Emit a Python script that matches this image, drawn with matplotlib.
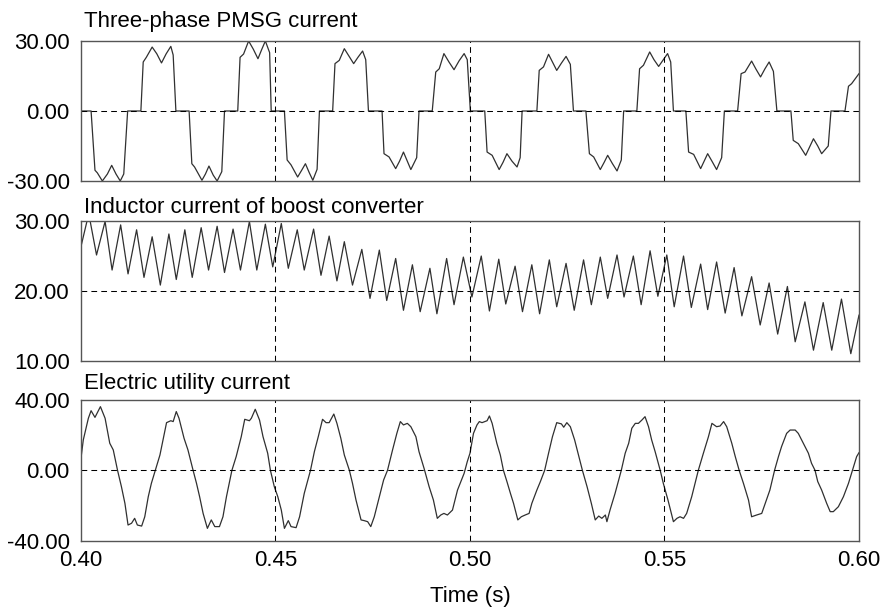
#!/usr/bin/env python3
import matplotlib
matplotlib.use('Agg')
import matplotlib.pyplot as plt

plt.rcParams['font.family'] = ['Liberation Sans', 'DejaVu Sans']

### values ###
x_ticks = [0.40, 0.45, 0.50, 0.55, 0.60]
x_labels = ['0.40', '0.45', '0.50', '0.55', '0.60']
x_grid = [0.45, 0.50, 0.55]

# three-phase PMSG current (one phase shown)
pmsg_t = [0.4000, 0.4026, 0.4036, 0.4042, 0.4055, 0.4068, 0.4079, 0.4090, 0.4101, 0.4110, 0.4120,
          0.4154, 0.4160, 0.4168, 0.4183, 0.4195, 0.4207, 0.4219, 0.4231, 0.4237, 0.4244,
          0.4278, 0.4285, 0.4292, 0.4311, 0.4320, 0.4329, 0.4340, 0.4350, 0.4362, 0.4369,
          0.4403, 0.4409, 0.4418, 0.4431, 0.4443, 0.4455, 0.4465, 0.4474, 0.4485, 0.4489,
          0.4523, 0.4530, 0.4540, 0.4557, 0.4567, 0.4577, 0.4587, 0.4596, 0.4607, 0.4613,
          0.4647, 0.4653, 0.4664, 0.4677, 0.4689, 0.4701, 0.4712, 0.4724, 0.4732, 0.4739,
          0.4774, 0.4779, 0.4792, 0.4809, 0.4819, 0.4829, 0.4839, 0.4848, 0.4863, 0.4869,
          0.4903, 0.4912, 0.4921, 0.4933, 0.4946, 0.4959, 0.4972, 0.4985, 0.4993, 0.5001,
          0.5038, 0.5044, 0.5057, 0.5075, 0.5085, 0.5095, 0.5108, 0.5121, 0.5129, 0.5134,
          0.5172, 0.5178, 0.5189, 0.5202, 0.5212, 0.5223, 0.5235, 0.5247, 0.5258, 0.5266,
          0.5298, 0.5307, 0.5318, 0.5335, 0.5345, 0.5354, 0.5366, 0.5378, 0.5389, 0.5395,
          0.5429, 0.5436, 0.5446, 0.5462, 0.5473, 0.5485, 0.5497, 0.5508, 0.5516, 0.5523,
          0.5555, 0.5562, 0.5575, 0.5593, 0.5602, 0.5611, 0.5622, 0.5634, 0.5647, 0.5654,
          0.5688, 0.5697, 0.5707, 0.5724, 0.5735, 0.5747, 0.5758, 0.5769, 0.5780, 0.5789,
          0.5825, 0.5831, 0.5844, 0.5863, 0.5873, 0.5883, 0.5894, 0.5904, 0.5921, 0.5928,
          0.5964, 0.5973, 0.5981, 0.6000]
pmsg_i = [0, 0, -25.4, -26.5, -30.0, -27.0, -23.3, -27.0, -30.0, -27.0, 0,
          0, 21.0, 23.0, 27.4, 24.5, 20.6, 24.5, 27.7, 24.0, 0,
          0, -22.6, -24.0, -29.7, -27.0, -23.6, -27.5, -30.0, -26.0, 0,
          0, 23.0, 24.4, 30.0, 26.5, 22.4, 26.5, 30.0, 25.0, 0,
          0, -21.0, -23.1, -28.3, -25.5, -22.6, -26.5, -29.7, -25.0, 0,
          0, 20.3, 21.7, 26.7, 23.5, 20.3, 23.0, 25.7, 22.0, 0,
          0, -18.3, -19.7, -24.7, -21.5, -17.6, -21.5, -25.1, -20.0, 0,
          0, 16.7, 18.1, 24.6, 21.0, 17.7, 21.5, 24.6, 22.0, 0,
          0, -17.6, -19.0, -25.1, -22.0, -18.3, -21.5, -24.0, -20.0, 0,
          0, 17.4, 18.9, 24.3, 21.0, 17.4, 20.5, 23.4, 20.0, 0,
          0, -18.3, -19.7, -25.1, -22.0, -19.0, -22.5, -25.7, -21.0, 0,
          0, 18.1, 19.6, 25.3, 22.0, 19.1, 22.0, 24.6, 21.0, 0,
          0, -17.6, -18.6, -24.7, -21.5, -18.3, -21.5, -25.1, -20.0, 0,
          0, 16.0, 16.7, 21.4, 18.0, 14.6, 18.0, 21.0, 17.0, 0,
          0, -12.6, -14.0, -19.0, -15.5, -11.9, -15.0, -18.3, -15.0, 0,
          0, 10.6, 11.7, 16.0]

# inductor current of the boost converter (peaks and troughs)
ind_t = [0.4000, 0.4020, 0.4040, 0.4062, 0.4080, 0.4102, 0.4121, 0.4143, 0.4162, 0.4183,
         0.4204, 0.4226, 0.4245, 0.4267, 0.4286, 0.4309, 0.4328, 0.4350, 0.4369, 0.4391,
         0.4410, 0.4433, 0.4452, 0.4474, 0.4493, 0.4515, 0.4533, 0.4556, 0.4574, 0.4598,
         0.4617, 0.4638, 0.4658, 0.4677, 0.4698, 0.4722, 0.4743, 0.4767, 0.4786, 0.4809,
         0.4829, 0.4852, 0.4872, 0.4897, 0.4915, 0.4940, 0.4959, 0.4983, 0.5005,
         0.5029, 0.5050, 0.5074, 0.5092, 0.5116, 0.5135, 0.5159, 0.5179, 0.5204, 0.5223,
         0.5247, 0.5268, 0.5292, 0.5312, 0.5335, 0.5354, 0.5378, 0.5396, 0.5420, 0.5440,
         0.5463, 0.5483, 0.5506, 0.5525, 0.5549, 0.5569, 0.5593, 0.5611, 0.5634, 0.5656,
         0.5679, 0.5699, 0.5724, 0.5746, 0.5769, 0.5791, 0.5816, 0.5836, 0.5861, 0.5883,
         0.5908, 0.5930, 0.5955, 0.5979, 0.6000]
ind_i = [26.3, 31.0, 25.1, 29.9, 22.95, 29.4, 22.4, 28.7, 21.9, 27.7,
         20.8, 28.1, 21.6, 28.7, 21.9, 29.0, 22.95, 29.2, 22.6, 28.8,
         22.95, 29.9, 22.95, 29.5, 23.4, 29.6, 23.2, 28.7, 22.95, 28.8,
         22.2, 27.8, 21.4, 27.0, 20.8, 25.9, 18.9, 25.8, 18.6, 24.6,
         17.2, 23.7, 17.0, 23.2, 16.7, 24.6, 18.0, 24.8, 19.1,
         24.95, 17.1, 24.5, 18.1, 23.5, 17.0, 23.7, 16.7, 24.4, 17.7,
         23.9, 17.2, 24.4, 18.0, 24.8, 18.9, 25.1, 19.1, 24.95, 18.0,
         25.7, 19.2, 25.1, 17.7, 24.95, 17.6, 23.8, 17.3, 24.1, 16.8,
         23.3, 16.4, 22.0, 15.1, 21.1, 13.8, 20.6, 12.7, 18.4, 11.5,
         18.3, 11.5, 18.8, 11.0, 16.5]

# electric utility current
util_t = [0.4000, 0.4006, 0.4012, 0.4019, 0.4026, 0.4036, 0.4050, 0.4062, 0.4074, 0.4083,
          0.4094, 0.4104, 0.4113, 0.4121, 0.4130, 0.4138, 0.4145, 0.4156, 0.4164, 0.4173,
          0.4181, 0.4191, 0.4203, 0.4211, 0.4220, 0.4231, 0.4237, 0.4245, 0.4252, 0.4265,
          0.4275, 0.4288, 0.4297, 0.4305, 0.4314, 0.4325, 0.4335, 0.4344, 0.4356, 0.4365,
          0.4374, 0.4388, 0.4399, 0.4412, 0.4421, 0.4433, 0.4438, 0.4448, 0.4459, 0.4468,
          0.4480, 0.4487, 0.4497, 0.4506, 0.4515, 0.4523, 0.4533, 0.4540, 0.4553, 0.4562,
          0.4574, 0.4590, 0.4600, 0.4610, 0.4621, 0.4630, 0.4638, 0.4650, 0.4658, 0.4668,
          0.4677, 0.4690, 0.4698, 0.4707, 0.4720, 0.4728, 0.4737, 0.4745, 0.4754, 0.4767,
          0.4778, 0.4788, 0.4801, 0.4812, 0.4821, 0.4829, 0.4839, 0.4848, 0.4861, 0.4869,
          0.4882, 0.4895, 0.4906, 0.4916, 0.4925, 0.4933, 0.4942, 0.4955, 0.4968, 0.4985,
          0.4993, 0.5000, 0.5009, 0.5018, 0.5024, 0.5031, 0.5038, 0.5044, 0.5050, 0.5057,
          0.5069, 0.5078, 0.5086, 0.5095, 0.5104, 0.5112, 0.5123, 0.5132, 0.5142, 0.5152,
          0.5159, 0.5172, 0.5181, 0.5192, 0.5202, 0.5212, 0.5223, 0.5235, 0.5241, 0.5249,
          0.5258, 0.5269, 0.5279, 0.5289, 0.5301, 0.5312, 0.5322, 0.5331, 0.5339, 0.5348,
          0.5352, 0.5360, 0.5373, 0.5389, 0.5399, 0.5408, 0.5416, 0.5425, 0.5433, 0.5442,
          0.5450, 0.5459, 0.5467, 0.5476, 0.5489, 0.5497, 0.5509, 0.5523, 0.5532, 0.5540,
          0.5549, 0.5557, 0.5570, 0.5587, 0.5600, 0.5613, 0.5622, 0.5634, 0.5643, 0.5652,
          0.5660, 0.5673, 0.5682, 0.5692, 0.5703, 0.5716, 0.5724, 0.5737, 0.5750, 0.5759,
          0.5771, 0.5783, 0.5793, 0.5801, 0.5814, 0.5823, 0.5836, 0.5844, 0.5857, 0.5870,
          0.5878, 0.5887, 0.5894, 0.5904, 0.5917, 0.5926, 0.5934, 0.5947, 0.5960, 0.5973,
          0.5986, 0.5994, 0.6000]
util_i = [6.8, 17.3, 22.9, 29.6, 33.9, 30.1, 36.2, 29.6, 15.4, 11.6,
          0.0, -9.3, -18.8, -31.1, -30.1, -27.3, -31.1, -31.7, -26.4, -15.0,
          -7.4, 0.0, 8.7, 17.3, 27.1, 28.2, 27.7, 33.4, 29.6, 18.2,
          11.6, 0.2, -7.4, -15.0, -24.5, -33.0, -28.2, -32.0, -32.0, -26.4,
          -15.0, 0.0, 7.8, 19.1, 29.0, 28.2, 29.6, 34.7, 28.6, 19.1,
          9.7, 0.0, -9.3, -15.0, -22.6, -33.0, -28.6, -32.0, -32.6, -26.4,
          -13.1, 0.0, 10.6, 19.1, 29.0, 27.1, 27.1, 32.0, 26.7, 18.2,
          8.7, 0.0, -7.4, -16.9, -28.2, -28.6, -29.2, -32.0, -26.4, -15.0,
          -5.5, 0.0, 11.6, 21.0, 27.7, 25.8, 26.7, 24.8, 19.1, 10.6,
          1.1, -9.3, -16.9, -27.3, -25.4, -24.5, -25.4, -22.6, -11.2, -1.7,
          4.9, 9.7, 21.0, 25.8, 27.7, 27.1, 27.7, 28.2, 30.9, 26.7,
          15.4, 8.7, 0.0, -6.4, -13.1, -18.8, -28.2, -26.4, -25.4, -24.5,
          -18.8, -11.2, -6.4, 0.0, 9.7, 19.1, 27.1, 26.4, 24.5, 27.1,
          24.8, 17.3, 8.7, 0.0, -9.3, -18.8, -28.2, -26.0, -27.3, -25.4,
          -29.2, -22.6, -13.1, 0.0, 9.7, 15.4, 23.9, 26.7, 26.7, 28.6,
          30.5, 24.8, 17.3, 10.6, 0.0, -7.4, -16.9, -29.2, -27.3, -26.4,
          -27.3, -24.5, -15.0, 0.0, 9.7, 19.1, 26.7, 24.8, 25.2, 27.7,
          24.8, 15.4, 7.8, 0.0, -7.4, -16.9, -26.4, -25.4, -24.5, -18.8,
          -11.2, 0.0, 7.8, 13.5, 21.0, 22.9, 22.9, 21.0, 15.4, 9.7,
          4.0, 0.0, -6.4, -11.2, -18.8, -23.5, -23.5, -20.7, -15.0, -7.4,
          2.1, 7.8, 10.0]

titles = ['Three-phase PMSG current', 'Inductor current of boost converter',
          'Electric utility current']
y_ticks = [[-30, 0, 30], [10, 20, 30], [-40, 0, 40]]
y_labels = [['-30.00', '0.00', '30.00'], ['10.00', '20.00', '30.00'],
            ['-40.00', '0.00', '40.00']]
y_ref = [0, 20, 0]

### Plot ###
fig = plt.figure(figsize=(8.82, 6.11), dpi=100)
boxes = [[0.0918, 0.7038, 0.8821, 0.2291],
         [0.0918, 0.4097, 0.8821, 0.2291],
         [0.0918, 0.1151, 0.8821, 0.2303]]
title_y = [1.102, 1.053, 1.076]
series = [(pmsg_t, pmsg_i), (ind_t, ind_i), (util_t, util_i)]
dash = (0, (5.5, 4))

for k in range(3):
    ax = fig.add_axes(boxes[k])
    t, i = series[k]
    ax.plot(t, i, color='#303030', lw=0.9)
    ax.set_xlim(0.40, 0.60)
    ax.set_ylim(y_ticks[k][0], y_ticks[k][-1])
    for x in x_grid:
        ax.axvline(x, color='black', lw=0.75, ls=dash)
    ax.axhline(y_ref[k], color='black', lw=0.75, ls=dash)
    ax.set_yticks(y_ticks[k])
    ax.set_yticklabels(y_labels[k])
    ax.set_xticks(x_ticks)
    if k == 2:
        ax.set_xticklabels(x_labels)
    else:
        ax.set_xticklabels([])
    ax.tick_params(length=0, labelsize=16)
    ax.tick_params(axis='y', pad=8)
    ax.tick_params(axis='x', pad=7)
    for s in ax.spines.values():
        s.set_color('#555555')
        s.set_linewidth(1.0)
    ax.text(0.004, title_y[k], titles[k], transform=ax.transAxes,
            fontsize=16, va='baseline', ha='left')

fig.text(470 / 882, 0.0152, 'Time (s)', fontsize=16, ha='center', va='baseline')

plt.savefig('out.png', dpi=100)
